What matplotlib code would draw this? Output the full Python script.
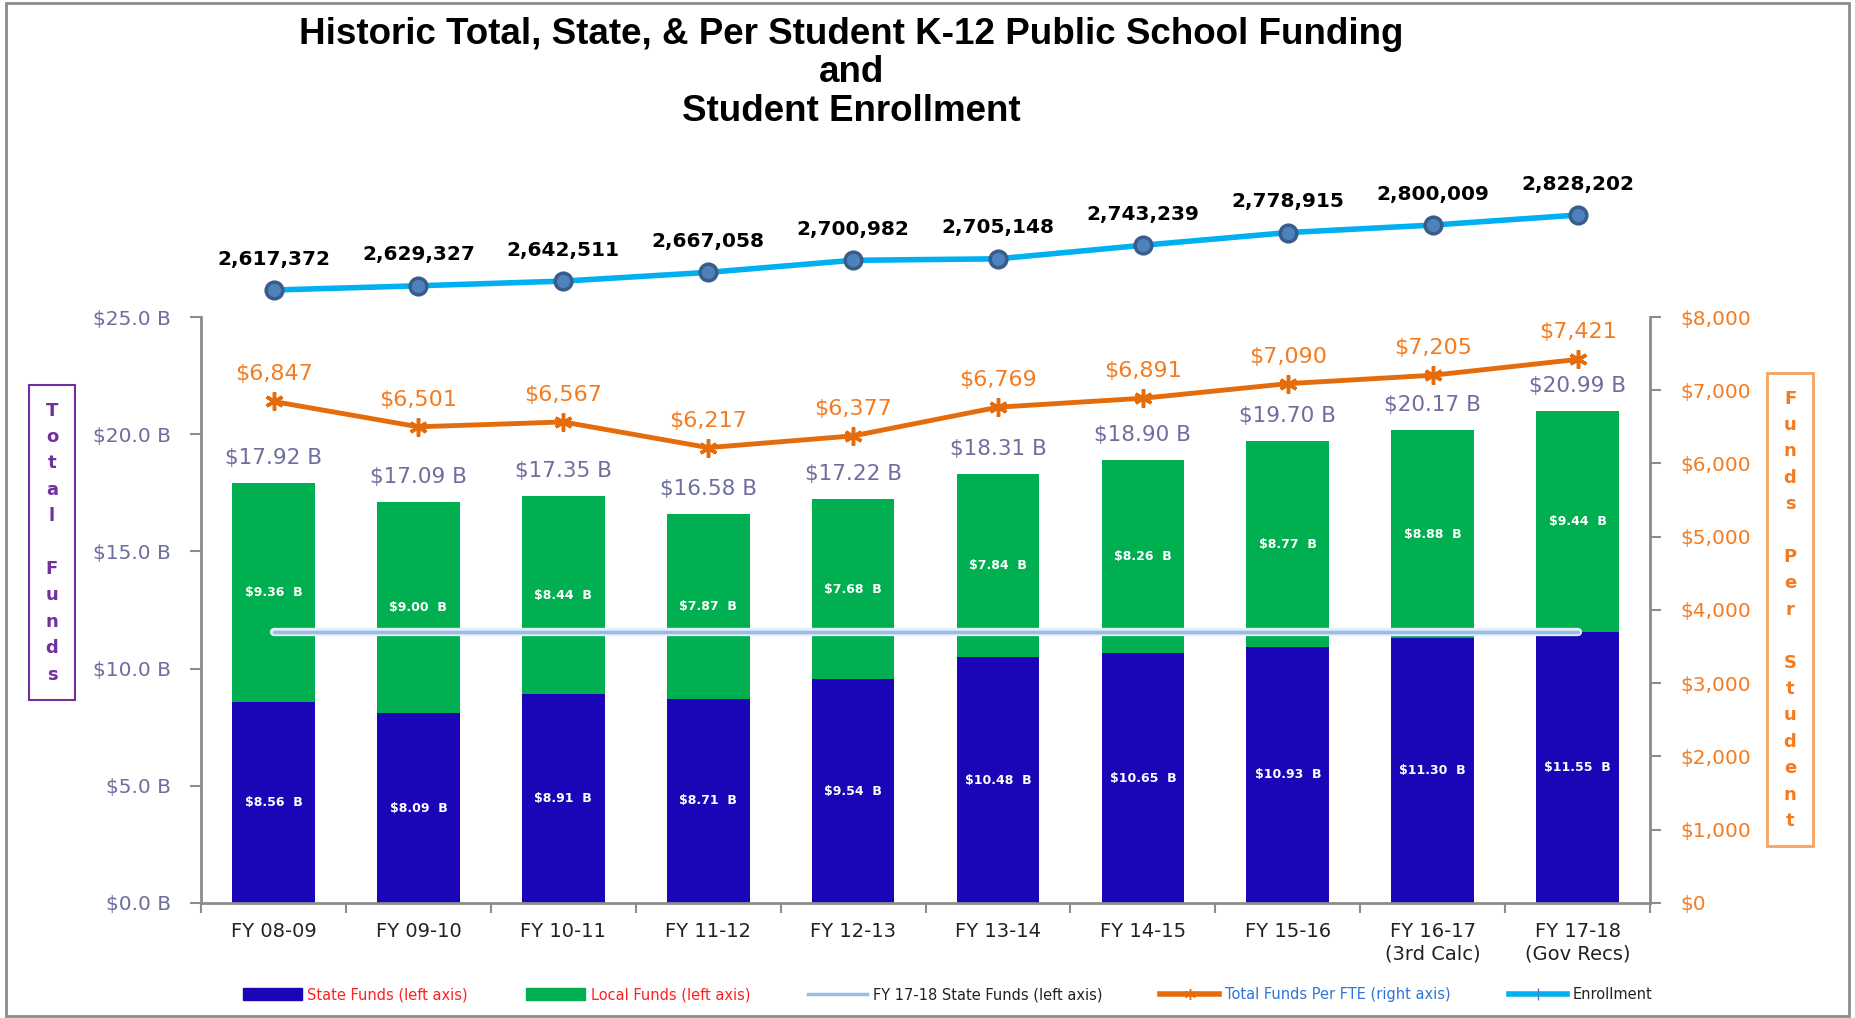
import numpy as np
import matplotlib
matplotlib.use('Agg')
import matplotlib.pyplot as plt
from matplotlib.patches import Rectangle, Patch
from matplotlib.lines import Line2D

# chart data
years = ['FY 08-09', 'FY 09-10', 'FY 10-11', 'FY 11-12', 'FY 12-13',
         'FY 13-14', 'FY 14-15', 'FY 15-16', 'FY 16-17\n(3rd Calc)', 'FY 17-18\n(Gov Recs)']
state_funds = [8.56, 8.09, 8.91, 8.71, 9.54, 10.48, 10.65, 10.93, 11.30, 11.55]
local_funds = [9.36, 9.00, 8.44, 7.87, 7.68, 7.84, 8.26, 8.77, 8.88, 9.44]
total_funds = [17.92, 17.09, 17.35, 16.58, 17.22, 18.31, 18.90, 19.70, 20.17, 20.99]
per_fte = [6847, 6501, 6567, 6217, 6377, 6769, 6891, 7090, 7205, 7421]
enrollment = [2617372, 2629327, 2642511, 2667058, 2700982, 2705148, 2743239, 2778915, 2800009, 2828202]
fy1718_state = 11.55
left_ticks = [0, 5, 10, 15, 20, 25]
right_ticks = [0, 1000, 2000, 3000, 4000, 5000, 6000, 7000, 8000]

c_state = '#1B06B7'
c_local = '#00B050'
c_orange = '#E46C0A'
c_orange_txt = '#F47B20'
c_enroll = '#00B0F0'
c_grey_txt = '#6E6E9E'
c_axis = '#8C8C8C'
c_purple = '#7030A0'

x = np.arange(len(years))

fig = plt.figure(figsize=(18.55, 10.18), dpi=100)
fig.patches.append(Rectangle((0.003, 0.002), 0.994, 0.995, transform=fig.transFigure,
                             fill=False, ec=c_axis, lw=2))

ax = fig.add_axes([0.1084, 0.1130, 0.7811, 0.5756])
ax.bar(x, state_funds, width=0.57, color=c_state, zorder=2)
ax.bar(x, local_funds, width=0.57, bottom=state_funds, color=c_local, zorder=2)

# FY 17-18 state funds reference line
ax.plot([x[0], x[-1]], [fy1718_state, fy1718_state], color='#E3ECF7', lw=6,
        solid_capstyle='round', zorder=3)
ax.plot([x[0], x[-1]], [fy1718_state, fy1718_state], color='#95BDE8', lw=2.5,
        solid_capstyle='round', zorder=4)

for i in range(len(x)):
    ax.text(x[i], state_funds[i] / 2, '${:.2f}  B'.format(state_funds[i]), color='white',
            ha='center', va='center', fontsize=9, fontweight='bold', zorder=5)
    ax.text(x[i], state_funds[i] + local_funds[i] / 2, '${:.2f}  B'.format(local_funds[i]),
            color='white', ha='center', va='center', fontsize=9, fontweight='bold', zorder=5)
    ax.annotate('${:.2f} B'.format(total_funds[i]), (x[i], total_funds[i]),
                xytext=(0, 25), textcoords='offset pixels', ha='center', va='center',
                color=c_grey_txt, fontsize=15.5)

ax.set_xlim(-0.5, len(x) - 0.5)
ax.set_ylim(0, 25)
ax.set_yticks(left_ticks)
ax.set_yticklabels(['${:.1f} B'.format(v) for v in left_ticks])
ax.tick_params(axis='y', colors=c_axis, labelcolor=c_grey_txt, labelsize=14.5,
               length=8, width=1.5, direction='out', pad=14)
ax.set_xticks(x)
ax.set_xticklabels(years, fontsize=14, color='#222222')
ax.set_xticks(np.arange(-0.5, len(x)), minor=True)
ax.tick_params(axis='x', which='major', length=0, pad=14)
ax.tick_params(axis='x', which='minor', length=7, width=1.5, color=c_axis)
for s in ['top', 'right']:
    ax.spines[s].set_visible(False)
for s in ['left', 'bottom']:
    ax.spines[s].set_color(c_axis)
    ax.spines[s].set_linewidth(2)

# per student funds on right axis
ax2 = ax.twinx()
ax2.plot(x, per_fte, color=c_orange, lw=3.5, marker=(6, 2, 0), ms=13, mew=2.5, zorder=5)
for i in range(len(x)):
    ax2.annotate('${:,}'.format(per_fte[i]), (x[i], per_fte[i]), xytext=(0, 27),
                 textcoords='offset pixels', ha='center', va='center',
                 color=c_orange_txt, fontsize=16)
ax2.set_ylim(0, 8000)
ax2.set_yticks(right_ticks)
ax2.set_yticklabels(['${:,}'.format(v) for v in right_ticks])
ax2.tick_params(axis='y', colors=c_axis, labelcolor=c_orange_txt, labelsize=14.5,
                length=8, width=1.5, direction='out', pad=14)
for s in ['top', 'left', 'bottom']:
    ax2.spines[s].set_visible(False)
ax2.spines['right'].set_color(c_axis)
ax2.spines['right'].set_linewidth(2)

# enrollment line above the bars
ax3 = fig.add_axes([0.1084, 0.6974, 0.7811, 0.1513])
ax3.plot(x, enrollment, color=c_enroll, lw=4, marker='o', ms=12,
         mfc='#4F81BD', mec='#385D8A', mew=2.5, zorder=3)
for i in range(len(x)):
    ax3.annotate('{:,}'.format(enrollment[i]), (x[i], enrollment[i]), xytext=(0, 31),
                 textcoords='offset pixels', ha='center', va='center',
                 fontsize=14.5, fontweight='bold', color='black')
ax3.set_xlim(-0.5, len(x) - 0.5)
ax3.set_ylim(2566770, 2999710)
ax3.axis('off')

# titles
title_font = ['Liberation Sans Narrow', 'Liberation Sans', 'DejaVu Sans']
fig.text(0.459, 0.966, 'Historic Total, State, & Per Student K-12 Public School Funding',
         ha='center', va='center', fontsize=26.5, fontweight='bold', family=title_font)
fig.text(0.459, 0.929, 'and', ha='center', va='center', fontsize=26.5,
         fontweight='bold', family=title_font)
fig.text(0.459, 0.890, 'Student Enrollment', ha='center', va='center', fontsize=26.5,
         fontweight='bold', family=title_font)

# axis title boxes with stacked letters
fig.text(0.028, 0.467, '\n'.join('Total Funds'), ha='center', va='center',
         fontsize=13, fontweight='bold', color=c_purple, linespacing=1.6,
         bbox=dict(boxstyle='square,pad=0.9', fc='white', ec=c_purple, lw=1.5))
fig.text(0.965, 0.401, '\n'.join('Funds Per Student'), ha='center', va='center',
         fontsize=13, fontweight='bold', color=c_orange_txt, linespacing=1.6,
         bbox=dict(boxstyle='square,pad=0.9', fc='white', ec='#F4A460', lw=2))

# legend
handles = [Patch(color=c_state), Patch(color=c_local),
           Line2D([], [], color='#95BDE8', lw=2.5),
           Line2D([], [], color=c_orange, lw=4, marker=(6, 2, 0), ms=8),
           Line2D([], [], color=c_enroll, lw=4, marker='|', ms=8, mec='#4F81BD')]
labels = ['State Funds (left axis)', 'Local Funds (left axis)', 'FY 17-18 State Funds (left axis)',
          'Total Funds Per FTE (right axis)', 'Enrollment']
leg = fig.legend(handles, labels, loc='center', bbox_to_anchor=(0.511, 0.023), ncol=5,
                 frameon=False, fontsize=10.5, handlelength=4, handleheight=0.9,
                 handletextpad=0.4, columnspacing=4)
for t, c in zip(leg.get_texts(), ['#FF2020', '#FF2020', '#222222', '#2E75D6', '#222222']):
    t.set_color(c)

fig.savefig('out.png', dpi=100)
